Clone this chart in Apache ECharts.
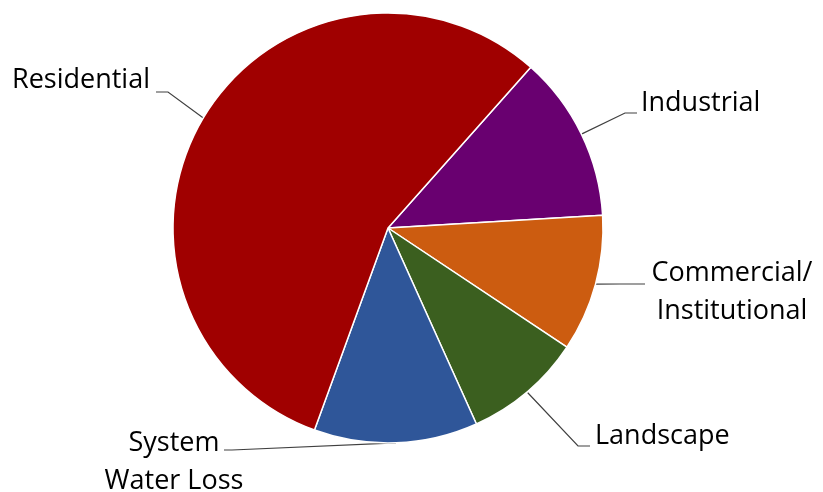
<!DOCTYPE html>
<html>
<head>
<meta charset="utf-8">
<script src="https://cdn.jsdelivr.net/npm/echarts@6/dist/echarts.min.js"></script>
<style>
  html, body { margin: 0; padding: 0; background: #fff; }
  #chart { width: 823px; height: 492px; }
</style>
</head>
<body>
<div id="chart"></div>
<script>
// slices in clockwise order, starting at the Residential/Industrial boundary
const sliceNames = ['Industrial', 'Commercial/\nInstitutional', 'Landscape', 'System\nWater Loss', 'Residential'];
const sliceShares = [12.5, 10.3, 8.9, 12.3, 56.0];
const sliceColors = ['#690070', '#CC5C10', '#3B5F1F', '#2F5699', '#A00000'];

// where each label sits and how its leader line bends (layout only)
const labelSpots = [
  { x: 641, y: 103, align: 'left', elbow: [625, 113], end: [637, 113] },
  { x: 732, y: 292, align: 'center', elbow: [620, 284], end: [645, 284] },
  { x: 595, y: 436, align: 'left', elbow: [578, 446], end: [590, 446] },
  { x: 174, y: 462, align: 'center', elbow: [232, 450], end: [224, 450] },
  { x: 150, y: 80, align: 'right', elbow: [168, 92], end: [156, 92] }
];

const chart = echarts.init(document.getElementById('chart'));

const option = {
  animation: false,
  series: [
    {
      type: 'pie',
      center: [388, 228],
      radius: 215,
      startAngle: 48.4,
      clockwise: true,
      avoidLabelOverlap: false,
      itemStyle: { borderColor: '#ffffff', borderWidth: 1.5 },
      emphasis: { disabled: true },
      label: {
        show: true,
        position: 'outside',
        color: '#000',
        fontFamily: 'Open Sans',
        fontSize: 27,
        lineHeight: 38
      },
      labelLine: {
        show: true,
        length: 20,
        length2: 10,
        lineStyle: { color: '#404040', width: 1.2 }
      },
      labelLayout: function (params) {
        const spot = labelSpots[params.dataIndex];
        const start = params.labelLinePoints[0];
        return {
          x: spot.x,
          y: spot.y,
          align: spot.align,
          verticalAlign: 'middle',
          labelLinePoints: [start, spot.elbow, spot.end]
        };
      },
      data: sliceNames.map((name, i) => ({
        name: name,
        value: sliceShares[i],
        itemStyle: { color: sliceColors[i] }
      }))
    }
  ]
};

chart.setOption(option);
</script>
</body>
</html>
